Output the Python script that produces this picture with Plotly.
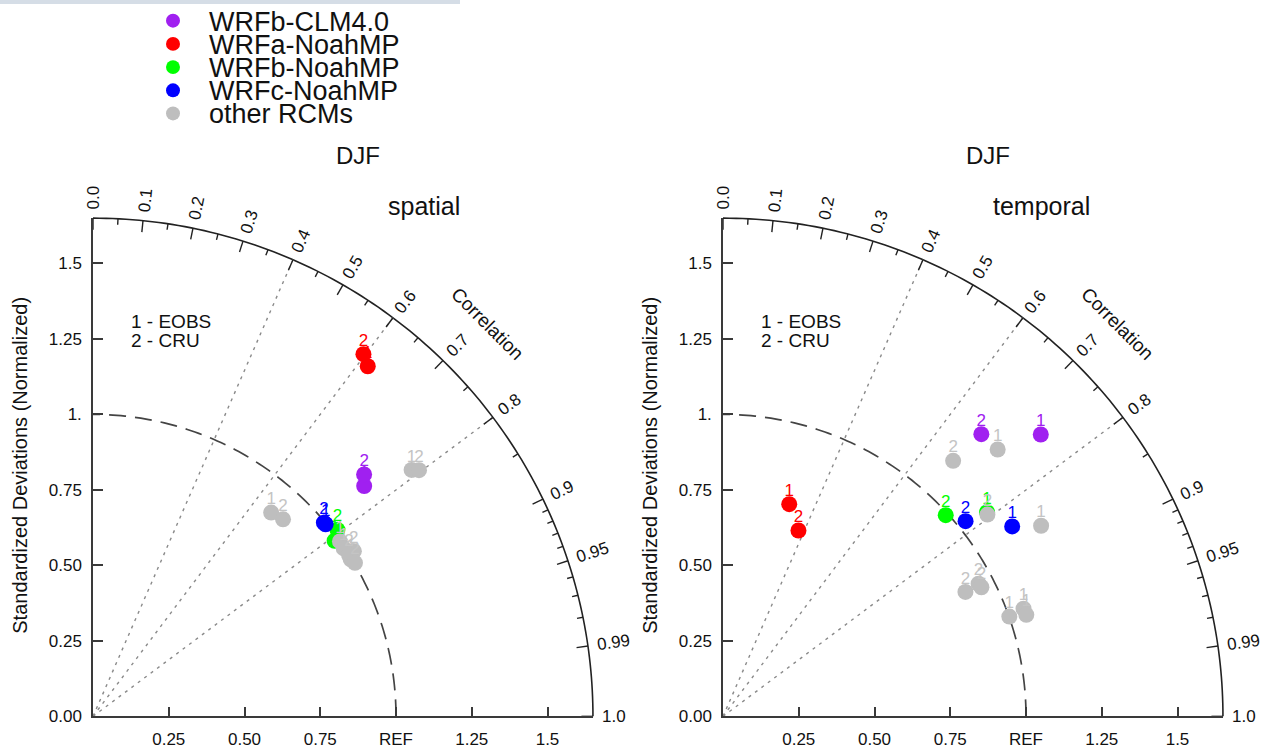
import numpy as np
import plotly.graph_objects as go

# ---------------- data (normalized standard deviation, correlation) ----------------
model_names = ["WRFb-CLM4.0", "WRFa-NoahMP", "WRFb-NoahMP", "WRFc-NoahMP"]
rcm_name = "other RCMs"
ref_labels = ["1", "2"]            # 1 - EOBS, 2 - CRU

# spatial panel
spatial_std_eobs = [1.176, 1.472, 0.987, 0.997]
spatial_cor_eobs = [0.761, 0.616, 0.808, 0.770]
spatial_std_cru = [1.201, 1.495, 1.016, 0.996]
spatial_cor_cru = [0.745, 0.597, 0.794, 0.765]
spatial_rcm_std_eobs = [1.331, 0.895, 1.000, 0.997, 0.997]
spatial_rcm_cor_eobs = [0.790, 0.657, 0.815, 0.830, 0.853]
spatial_rcm_std_cru = [1.350, 0.905, 1.020, 1.000, 1.003]
spatial_rcm_cor_cru = [0.797, 0.693, 0.844, 0.845, 0.862]

# temporal panel
temporal_std_eobs = [1.404, 0.736, 1.103, 1.143]
temporal_cor_eobs = [0.747, 0.297, 0.790, 0.835]
temporal_std_cru = [1.265, 0.664, 0.992, 1.029]
temporal_cor_cru = [0.674, 0.375, 0.741, 0.778]
temporal_rcm_std_eobs = [1.266, 1.225, 1.001, 1.054, 1.056]
temporal_rcm_cor_eobs = [0.716, 0.857, 0.944, 0.941, 0.948]
temporal_rcm_std_cru = [1.137, 1.099, 0.900, 0.951, 0.954]
temporal_rcm_cor_cru = [0.668, 0.794, 0.889, 0.887, 0.894]

# axis / tick definitions
corr_major = [0.0, 0.1, 0.2, 0.3, 0.4, 0.5, 0.6, 0.7, 0.8, 0.9, 0.95, 0.99, 1.0]
corr_major_text = ["0.0", "0.1", "0.2", "0.3", "0.4", "0.5", "0.6", "0.7", "0.8", "0.9", "0.95", "0.99", "1.0"]
corr_minor = [0.05, 0.15, 0.25, 0.35, 0.45, 0.55, 0.65, 0.75, 0.85,
              0.91, 0.92, 0.93, 0.94, 0.96, 0.97, 0.98]
corr_dotted = [0.4, 0.6, 0.8]
x_tick_vals = [0.25, 0.5, 0.75, 1.0, 1.25, 1.5]
x_tick_text = ["0.25", "0.50", "0.75", "REF", "1.25", "1.5"]
y_tick_vals = [0.0, 0.25, 0.5, 0.75, 1.0, 1.25, 1.5]
y_tick_text = ["0.00", "0.25", "0.50", "0.75", "1.", "1.25", "1.5"]
season = "DJF"
panel_titles = ["spatial", "temporal"]

# ---------------- styles ----------------
model_colors = ["#a020f0", "#ff0000", "#00ff00", "#0000ff"]
rcm_color = "#bebebe"
rcm_text_color = "#c4c4c4"
FONT = "Liberation Sans, Arial, sans-serif"
W, H = 1270, 751
RMAX = 1.65
UX = 303.0                         # pixels per std unit (horizontal)
UY = 306.0                         # pixels per std unit (vertical)
ORIG_Y = 726
ORIG_X = [93, 723]
AXC = "#3a3a3a"

fig = go.Figure()


def xy(std, cor):
    s = np.asarray(std, float)
    c = np.asarray(cor, float)
    return s * c, s * np.sqrt(1 - c ** 2)


def paper(ix, x, y):
    return ((ORIG_X[ix] + x * UX) / W, 1 - (ORIG_Y - y * UY) / H)


def add_points(ix, std, cor, color, tcolor, label, name):
    xa = "x" if ix == 0 else "x2"
    ya = "y" if ix == 0 else "y2"
    x, y = xy(std, cor)
    fig.add_trace(go.Scatter(x=x, y=y, mode="markers", xaxis=xa, yaxis=ya,
                             marker=dict(size=16, color=color, line=dict(width=0)),
                             name=name, showlegend=False, hoverinfo="skip"))
    fig.add_trace(go.Scatter(x=x, y=y, mode="markers+text", xaxis=xa, yaxis=ya,
                             marker=dict(size=5, color=color, opacity=0),
                             text=[label] * len(x), textposition="top center",
                             textfont=dict(size=17, color=tcolor, family=FONT),
                             showlegend=False, hoverinfo="skip", cliponaxis=False))


panels = [
    (spatial_std_eobs, spatial_cor_eobs, spatial_std_cru, spatial_cor_cru,
     spatial_rcm_std_eobs, spatial_rcm_cor_eobs, spatial_rcm_std_cru, spatial_rcm_cor_cru),
    (temporal_std_eobs, temporal_cor_eobs, temporal_std_cru, temporal_cor_cru,
     temporal_rcm_std_eobs, temporal_rcm_cor_eobs, temporal_rcm_std_cru, temporal_rcm_cor_cru),
]

shapes = []
annotations = []

for ix, (se, ce, sc, cc, rse, rce, rsc, rcc) in enumerate(panels):
    for g in range(len(model_names)):
        add_points(ix, [se[g]], [ce[g]], model_colors[g], model_colors[g], ref_labels[0], model_names[g])
        add_points(ix, [sc[g]], [cc[g]], model_colors[g], model_colors[g], ref_labels[1], model_names[g])
    add_points(ix, rse, rce, rcm_color, rcm_text_color, ref_labels[0], rcm_name)
    add_points(ix, rsc, rcc, rcm_color, rcm_text_color, ref_labels[1], rcm_name)

    # outer arc
    th = np.linspace(0, np.pi / 2, 120)
    pts = [paper(ix, RMAX * np.cos(t), RMAX * np.sin(t)) for t in th]
    path = "M " + " L ".join(f"{px:.5f},{py:.5f}" for px, py in pts)
    shapes.append(dict(type="path", path=path, xref="paper", yref="paper",
                       line=dict(color="#222", width=1.6), layer="below"))
    # reference arc (std = 1)
    pts = [paper(ix, np.cos(t), np.sin(t)) for t in th]
    path = "M " + " L ".join(f"{px:.5f},{py:.5f}" for px, py in pts)
    shapes.append(dict(type="path", path=path, xref="paper", yref="paper",
                       line=dict(color="#444", width=1.7, dash="17px,9px"), layer="below"))
    # dotted correlation rays
    for c in corr_dotted:
        t = np.arccos(c)
        x0, y0 = paper(ix, 0, 0)
        x1, y1 = paper(ix, RMAX * np.cos(t), RMAX * np.sin(t))
        shapes.append(dict(type="line", x0=x0, y0=y0, x1=x1, y1=y1, xref="paper", yref="paper",
                           line=dict(color="#8a8a8a", width=1.4, dash="3px,5px"), layer="below"))
    # arc ticks
    for c, ln in [(c, 0.038) for c in corr_major] + [(c, 0.02) for c in corr_minor]:
        t = np.arccos(c)
        x0, y0 = paper(ix, RMAX * np.cos(t), RMAX * np.sin(t))
        x1, y1 = paper(ix, (RMAX - ln) * np.cos(t), (RMAX - ln) * np.sin(t))
        shapes.append(dict(type="line", x0=x0, y0=y0, x1=x1, y1=y1, xref="paper", yref="paper",
                           line=dict(color="#222", width=1.4), layer="below"))
    # arc tick labels
    for c, txt in zip(corr_major, corr_major_text):
        t = np.arccos(c)
        w = sum(0.556 if ch.isdigit() else 0.278 for ch in txt) * 17
        r = RMAX + (9 + w / 2) / UX
        px, py = paper(ix, r * np.cos(t), r * np.sin(t))
        annotations.append(dict(x=px, y=py, xref="paper", yref="paper", text=txt, showarrow=False,
                                textangle=-np.degrees(t), xanchor="center", yanchor="middle",
                                font=dict(size=17, color="#111", family=FONT)))
    # "Correlation"
    px, py = paper(ix, 1.84 * np.cos(np.pi / 4), 1.84 * np.sin(np.pi / 4))
    annotations.append(dict(x=px, y=py, xref="paper", yref="paper", text="Correlation", showarrow=False,
                            textangle=45, xanchor="center", yanchor="middle",
                            font=dict(size=19, color="#111", family=FONT)))
    # titles
    annotations.append(dict(x=(ORIG_X[ix] + 265) / W, y=1 - 158 / H, xref="paper", yref="paper",
                            text=season, showarrow=False, xanchor="center", yanchor="middle",
                            font=dict(size=24, color="#111", family=FONT)))
    annotations.append(dict(x=(ORIG_X[ix] + 369) / W, y=1 - 209 / H, xref="paper", yref="paper",
                            text=panel_titles[ix], showarrow=False, xanchor="right", yanchor="middle",
                            font=dict(size=25, color="#111", family=FONT)))
    # y title
    annotations.append(dict(x=(ORIG_X[ix] - 73) / W, y=1 - 472 / H, xref="paper", yref="paper",
                            text="Standardized Deviations (Normalized)", showarrow=False,
                            textangle=-90, xanchor="center", yanchor="middle",
                            font=dict(size=20, color="#111", family=FONT)))
    # reference key
    for k, txt in enumerate(["1 - EOBS", "2 - CRU"]):
        annotations.append(dict(x=(ORIG_X[ix] + 36) / W, y=1 - (326 + 19 * k) / H, xref="paper",
                                yref="paper", text=txt, showarrow=False, xanchor="left",
                                yanchor="middle", font=dict(size=19, color="#111", family=FONT)))

# manual legend
legend_names = model_names + [rcm_name]
legend_colors = model_colors + [rcm_color]
for k, (nm, col) in enumerate(zip(legend_names, legend_colors)):
    cy = 21 + 23.5 * k
    shapes.append(dict(type="circle", xref="paper", yref="paper",
                       x0=(173 - 7) / W, x1=(173 + 7) / W, y0=1 - (cy + 7) / H, y1=1 - (cy - 7) / H,
                       fillcolor=col, line=dict(width=0)))
    annotations.append(dict(x=207 / W, y=1 - (cy + 1) / H, xref="paper", yref="paper", text=nm,
                            showarrow=False, xanchor="left", yanchor="middle",
                            font=dict(size=27, color="#111", family=FONT)))

# top strip
shapes.append(dict(type="rect", xref="paper", yref="paper", x0=0, x1=460 / W, y0=1 - 4 / H, y1=1,
                   fillcolor="#d5dde6", line=dict(width=0)))

axis_common = dict(range=[0, RMAX], showgrid=False, zeroline=False, showline=True,
                   linecolor=AXC, linewidth=1.5, ticks="inside", ticklen=10, tickwidth=1.5,
                   tickcolor=AXC, tickfont=dict(size=17, color="#111", family=FONT),
                   fixedrange=True)
ydom = [1 - ORIG_Y / H, 1 - (ORIG_Y - RMAX * UY) / H]
layout = dict(
    width=W, height=H, margin=dict(l=0, r=0, t=0, b=0),
    paper_bgcolor="white", plot_bgcolor="white", showlegend=False,
    shapes=shapes, annotations=annotations,
)
for ix in range(2):
    sx = "" if ix == 0 else "2"
    xdom = [ORIG_X[ix] / W, (ORIG_X[ix] + RMAX * UX) / W]
    layout["xaxis" + sx] = dict(axis_common, domain=xdom, anchor="y" + sx,
                                tickvals=x_tick_vals, ticktext=x_tick_text, ticklabelstandoff=7)
    layout["yaxis" + sx] = dict(axis_common, domain=ydom, anchor="x" + sx,
                                tickvals=y_tick_vals, ticktext=y_tick_text, ticklabelstandoff=6)
fig.update_layout(**layout)
fig.write_html("out.html")
